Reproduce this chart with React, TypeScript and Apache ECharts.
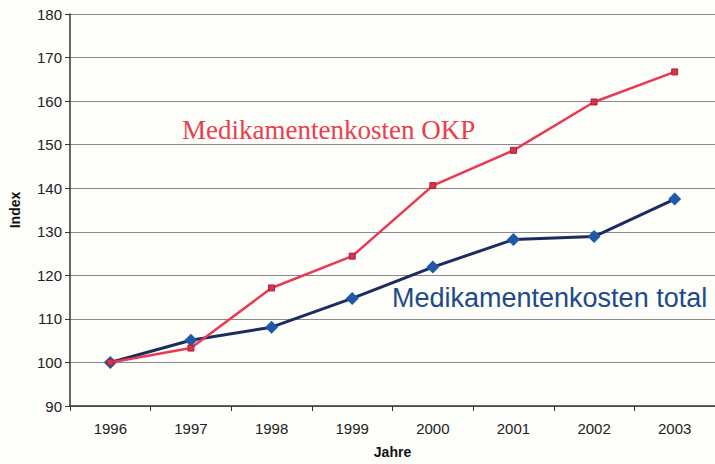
import React, { useEffect, useRef } from "react";
import * as echarts from "echarts";

const years = ["1996", "1997", "1998", "1999", "2000", "2001", "2002", "2003"];
const okp = [100, 103.3, 117.1, 124.4, 140.6, 148.7, 159.8, 166.7];
const total = [100, 105.1, 108.1, 114.7, 121.9, 128.2, 128.9, 137.5];
const okpLabel = "Medikamentenkosten OKP";
const totalLabel = "Medikamentenkosten total";

export default function App() {
  const ref = useRef<HTMLDivElement>(null);
  useEffect(() => {
    const chart = echarts.init(ref.current!, null, { renderer: "svg" });
    chart.setOption({
      animation: false,
      backgroundColor: "#fdfdf9",
      grid: { left: 70, top: 14, width: 648, height: 392, containLabel: false },
      xAxis: {
        type: "category",
        data: years,
        boundaryGap: true,
        name: "Jahre",
        nameLocation: "middle",
        nameGap: 39,
        nameTextStyle: { fontFamily: "Liberation Sans", fontWeight: "bold", fontSize: 14, color: "#111" },
        axisLine: { lineStyle: { color: "#333", width: 1.5 } },
        axisTick: { show: true, length: 5, lineStyle: { color: "#333" } },
        axisLabel: { fontFamily: "Liberation Sans", fontSize: 15, color: "#222", margin: 15 },
      },
      yAxis: {
        type: "value",
        min: 90,
        max: 180,
        interval: 10,
        name: "Index",
        nameLocation: "middle",
        nameGap: 48,
        nameRotate: 90,
        nameTextStyle: { fontFamily: "Liberation Sans", fontWeight: "bold", fontSize: 14, color: "#111" },
        axisLine: { show: true, lineStyle: { color: "#333", width: 1.5 } },
        axisTick: { show: true, length: 5, lineStyle: { color: "#333" } },
        axisLabel: { fontFamily: "Liberation Sans", fontSize: 15, color: "#222", margin: 8 },
        splitLine: { lineStyle: { color: "#8a8a8a", width: 1.2 } },
      },
      series: [
        {
          name: "total",
          type: "line",
          data: total,
          symbol: "diamond",
          symbolSize: 13,
          lineStyle: { color: "#1b2c5e", width: 3 },
          itemStyle: { color: "#1f5aa8" },
          z: 2,
        },
        {
          name: "OKP",
          type: "line",
          data: okp,
          symbol: "rect",
          symbolSize: 6,
          lineStyle: { color: "#e83a55", width: 2.5 },
          itemStyle: { color: "#d6334d", borderColor: "#b02038", borderWidth: 1 },
          z: 3,
        },
      ],
      graphic: [
        {
          type: "text",
          left: 182,
          top: 116,
          style: { text: okpLabel, fontFamily: "Liberation Serif", fontSize: 27, fill: "#e8404f" },
        },
        {
          type: "text",
          left: 392,
          top: 284,
          style: { text: totalLabel, fontFamily: "Liberation Sans", fontSize: 27, fill: "#1d4a8a" },
        },
      ],
    });
    return () => chart.dispose();
  }, []);
  return <div ref={ref} style={{ width: 715, height: 464, position: "absolute", left: 0, top: 0 }} />;
}
